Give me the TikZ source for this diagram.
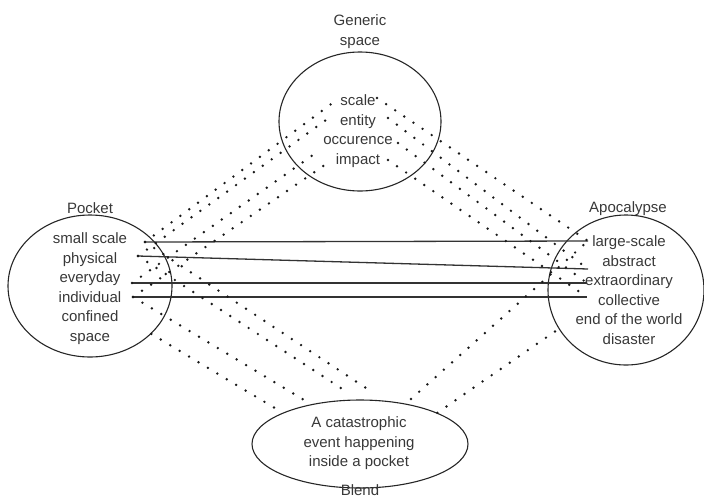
\documentclass[tikz,border=0pt]{standalone}
\usepackage{fontspec}
\setmainfont{Liberation Sans}
\usetikzlibrary{shapes.geometric}
\tikzset{
  oval/.style={ellipse, draw=black!85, line width=1.1pt, inner sep=0pt},
  txt/.style={anchor=base, inner sep=0pt, text=black!78, font=\fontsize{15}{19.5}\selectfont},
  dots/.style={draw=black!90, line width=2.7pt, line cap=round, dash pattern=on 0pt off 11pt},
  link/.style={draw=black!80, line width=1.3pt},
}
\newcommand\stack[1]{\begin{tabular}[t]{@{}c@{}}#1\end{tabular}}
\begin{document}
\begin{tikzpicture}[x=1pt,y=-1pt]
\path[use as bounding box] (0,0) rectangle (704,499);
% ellipses
\node[oval, minimum width=162pt, minimum height=139pt] (gen) at (360,121.5) {};
\node[oval, minimum width=164pt, minimum height=142pt] (poc) at (90,286) {};
\node[oval, minimum width=156pt, minimum height=150pt] (apo) at (626,290) {};
\node[oval, minimum width=216pt, minimum height=88pt] (ble) at (360,444) {};
% labels
\node[txt] (genlab) at (360,25.5) {\stack{Generic\\space}};
\node[txt] (poclab) at (90,213) {Pocket};
\node[txt] (apolab) at (628,212) {Apocalypse};
\node[txt] (blelab) at (360,495) {Blend};
% texts
\node[txt] (gentx) at (358,105.5) {\stack{scale\\entity\\occurence\\impact}};
\node[txt] (poctx) at (90,243.5) {\stack{small scale\\physical\\everyday\\individual\\confined\\space}};
\node[txt] (apotx) at (629,246.5) {\stack{large-scale\\abstract\\extraordinary\\collective\\end of the world\\disaster}};
\node[txt] (bletx) at (359,427.5) {\stack{A catastrophic\\event happening\\inside a pocket}};
% anchor points
\coordinate (p1) at (145,242);
\coordinate (p2) at (138,256);
\coordinate (p3) at (132,283);
\coordinate (p4) at (133,297);
\coordinate (a1) at (588,241);
\coordinate (a2) at (588,269);
\coordinate (a3) at (587,283);
\coordinate (a4) at (587,297);
\coordinate (g1l) at (338,99);
\coordinate (g2l) at (326,120);
\coordinate (g3l) at (320,150);
\coordinate (g4l) at (332,160);
\coordinate (g1r) at (377,98);
\coordinate (g2r) at (388,118);
\coordinate (g3r) at (398,143);
\coordinate (g4r) at (388,160);
\coordinate (b1) at (372,392);
\coordinate (b2) at (347,392);
\coordinate (b3) at (304,400);
\coordinate (b4) at (411,399);
% solid links
\draw[link] (p1) -- (a1);
\draw[link] (p2) -- (a2);
\draw[link] (p3) -- (a3);
\draw[link] (p4) -- (a4);
% pocket - generic
\draw[dots] (p1) -- (g1l);
\draw[dots] (p2) -- (g2l);
\draw[dots] (p3) -- (g3l);
\draw[dots] (p4) -- (g4l);
% generic - apocalypse
\draw[dots] (g1r) -- (a1);
\draw[dots] (g2r) -- (a2);
\draw[dots] (g3r) -- (a3);
\draw[dots] (g4r) -- (a4);
% pocket - blend
\draw[dots] (p1) -- (b1);
\draw[dots] (p2) -- (b2);
\draw[dots] (p4) -- (b3);
\draw[dots] (poc.-38) -- (ble.158);
% blend - apocalypse
\draw[dots] (b4) -- (a1);
\draw[dots] (ble.22) -- (apo.210);
\end{tikzpicture}
\end{document}
